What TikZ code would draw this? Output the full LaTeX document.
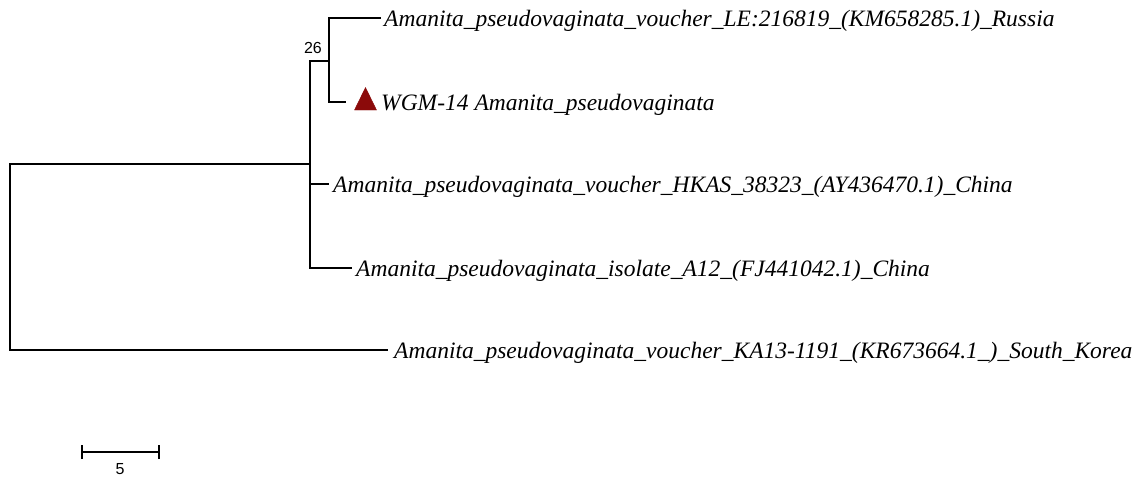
\documentclass[tikz,border=0pt]{standalone}
\usepackage{fontspec}
\setmainfont{Liberation Serif}
\newfontfamily\labelsans{Liberation Sans}
\definecolor{markred}{HTML}{8B0A0A}
\begin{document}
\begin{tikzpicture}[x=1pt,y=-1pt,
  branch/.style={line width=1.3pt,line cap=rect},
  taxon/.style={anchor=base west,inner sep=0pt,yshift=-8.5pt,font=\itshape\fontsize{23.5}{23.5}\selectfont},
  support/.style={anchor=base east,inner sep=0pt,font=\labelsans\fontsize{16}{16}\selectfont},
  scalelbl/.style={anchor=base,inner sep=0pt,font=\labelsans\fontsize{16}{16}\selectfont},
  marker/.style={fill=markred,draw=markred,line width=0.4pt}]
\useasboundingbox (0,0) rectangle (1144,477);
% internal nodes
\coordinate (root) at (10,257);
\coordinate (nA) at (310,164);
\coordinate (nB) at (329,61);
% leaf tips
\coordinate (t1) at (380,18);
\coordinate (t2) at (345,102);
\coordinate (t3) at (328,184);
\coordinate (t4) at (351,268);
\coordinate (t5) at (387,350);
% taxon labels
\node[taxon] (l1) at (384,18) {Amanita\_pseudovaginata\_voucher\_LE:216819\_(KM658285.1)\_Russia};
\path[marker] (354.5,110) -- (365.5,87.5) -- (376.5,110) -- cycle;
\node[taxon] (l2) at (381,102) {WGM-14 Amanita\_pseudovaginata};
\node[taxon] (l3) at (333,184) {Amanita\_pseudovaginata\_voucher\_HKAS\_38323\_(AY436470.1)\_China};
\node[taxon] (l4) at (356,268) {Amanita\_pseudovaginata\_isolate\_A12\_(FJ441042.1)\_China};
\node[taxon] (l5) at (394,350) {Amanita\_pseudovaginata\_voucher\_KA13-1191\_(KR673664.1\_)\_South\_Korea};
% branches
\draw[branch] (t5) -| (root) |- (nA);
\draw[branch] (nA |- nB) -- (nA |- t4) -- (t4);
\draw[branch] (nA |- t3) -- (t3);
\draw[branch] (nA |- nB) -- (nB);
\draw[branch] (t1) -| (nB) |- (t2);
% bootstrap value
\node[support] (bs) at (322,53) {26};
% scale bar
\coordinate (s0) at (82,452);
\coordinate (s1) at (159,452);
\draw[branch,line cap=butt] (s0) -- (s1);
\draw[branch,line cap=butt] ([yshift=-7pt]s0) -- ([yshift=7pt]s0);
\draw[branch,line cap=butt] ([yshift=-7pt]s1) -- ([yshift=7pt]s1);
\node[scalelbl] (sl) at (120,474) {5};
\end{tikzpicture}
\end{document}
